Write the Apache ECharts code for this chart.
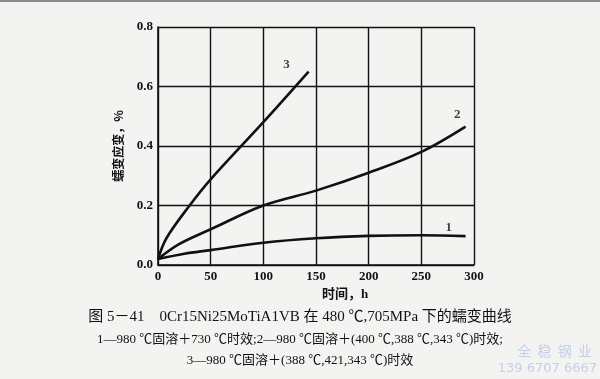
<!DOCTYPE html>
<html><head><meta charset="utf-8">
<script src="https://cdn.jsdelivr.net/npm/echarts@6/dist/echarts.min.js"></script>
<style>html,body{margin:0;padding:0;background:#f3f3f1;}#c{width:600px;height:379px;}</style>
</head><body><div id="c"></div>
<script>
// Data
const curve1 = [[0,0.02],[25,0.038],[50,0.05],[100,0.075],[150,0.09],[200,0.098],[250,0.1],[292,0.097]];
const curve2 = [[0,0.02],[20,0.07],[50,0.12],[100,0.2],[150,0.25],[200,0.31],[250,0.38],[292,0.465]];
const curve3 = [[0,0.02],[8,0.09],[30,0.2],[50,0.288],[100,0.48],[143,0.65]];
const curveLabels = [["1",[276,0.125]],["2",[284,0.505]],["3",[122,0.675]]];
const xTicks = [0,50,100,150,200,250,300];
const yTicks = [0,0.2,0.4,0.6,0.8];
const captionLines = [
  "图 5－41　0Cr15Ni25MoTiA1VB 在 480 ℃,705MPa 下的蠕变曲线",
  "1—980 ℃固溶＋730 ℃时效;2—980 ℃固溶＋(400 ℃,388 ℃,343 ℃)时效;",
  "3—980 ℃固溶＋(388 ℃,421,343 ℃)时效"
];

const serif = "'Liberation Serif','DejaVu Serif',serif";
const cjk = "'Liberation Serif','Noto Sans CJK SC',serif";
const chart = echarts.init(document.getElementById('c'));
const lineStyle = {color:'#111', width:2.6};
function mk(d){return {type:'line', data:d, smooth:0.35, symbol:'none', lineStyle:lineStyle, silent:true, z:5};}
chart.setOption({
  backgroundColor:'#f3f3f1',
  animation:false,
  grid:{left:158, right:126, top:27, bottom:114},
  xAxis:{type:'value', min:0, max:300, interval:50,
    name:'时间，h', nameLocation:'middle', nameGap:22,
    nameTextStyle:{color:'#111', fontSize:13, fontWeight:'bold', fontFamily:cjk, padding:[0,0,0,58]},
    axisLine:{show:true, lineStyle:{color:'#111', width:1.6}},
    axisTick:{show:false},
    axisLabel:{color:'#111', fontSize:13, fontWeight:'bold', fontFamily:serif, margin:5},
    splitLine:{show:true, lineStyle:{color:'#111', width:1.4}}
  },
  yAxis:{type:'value', min:0, max:0.8, interval:0.2,
    name:'蠕变应变，%', nameLocation:'middle', nameGap:34, nameRotate:90,
    nameTextStyle:{color:'#111', fontSize:12, fontWeight:'bold', fontFamily:"'Noto Sans CJK SC',sans-serif"},
    axisLine:{show:true, lineStyle:{color:'#111', width:1.6}},
    axisTick:{show:false},
    axisLabel:{color:'#111', fontSize:13, fontWeight:'bold', fontFamily:serif, margin:5, formatter:v=>v.toFixed(1)},
    splitLine:{show:true, lineStyle:{color:'#111', width:1.4}}
  },
  series:[mk(curve1), mk(curve2), mk(curve3),
    {type:'scatter', symbolSize:0, silent:true, z:6,
     data:curveLabels.map(l=>({value:l[1], name:l[0]})),
     label:{show:true, position:'inside', formatter:p=>p.name, color:'#111', fontSize:13, fontWeight:'bold', fontFamily:serif}}
  ],
  graphic:[
    {type:'rect', shape:{x:0,y:0,width:600,height:2}, style:{fill:'#8a8a8a'}},
    {type:'text', left:'center', top:310, style:{text:captionLines[0], fill:'#111', font:"15px "+cjk}},
    {type:'text', left:'center', top:333, style:{text:captionLines[1], fill:'#111', font:"13px "+cjk}},
    {type:'text', left:'center', top:354, style:{text:captionLines[2], fill:'#111', font:"13px "+cjk}},
    {type:'text', x:592, y:344, style:{text:'全  稳  钢  业', fill:'#c4cfe8', align:'right', font:"14px 'Noto Sans CJK SC',sans-serif"}},
    {type:'text', x:597, y:362, style:{text:'139 6707 6667', fill:'#c4cfe8', align:'right', font:"13px 'DejaVu Sans',sans-serif"}}
  ]
});
</script></body></html>
